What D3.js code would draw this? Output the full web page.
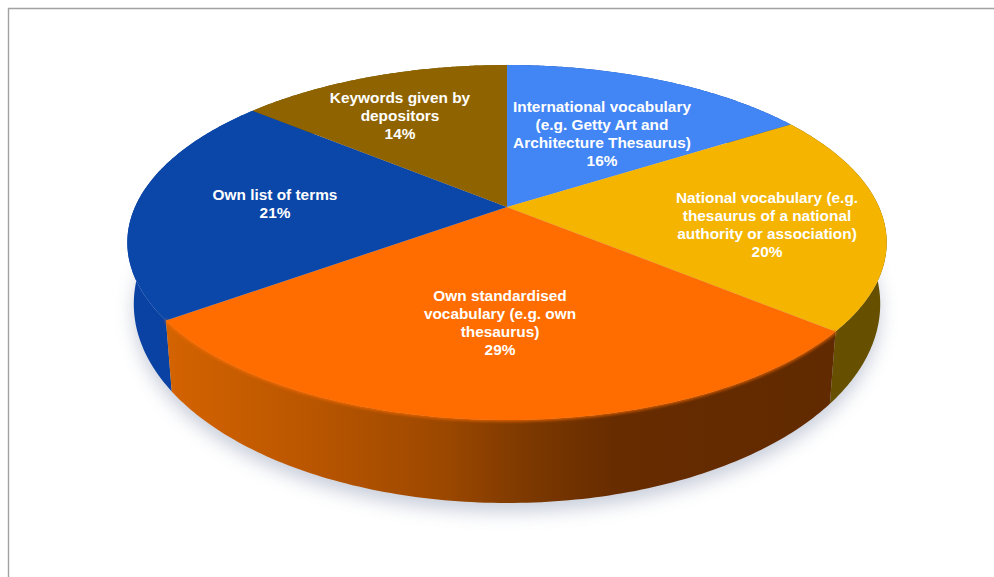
<!DOCTYPE html>
<html>
<head>
<meta charset="utf-8">
<script src="https://cdn.jsdelivr.net/npm/d3@7"></script>
<style>
  html, body { margin: 0; padding: 0; background: #fff; }
  svg { display: block; }
  text { font-family: "Liberation Sans", Arial, sans-serif; font-weight: 700; fill: #fff; }
</style>
</head>
<body>
<svg id="chart" width="994" height="577"></svg>
<script>
// Share of responses per vocabulary type, clockwise from twelve o'clock
const categories = [
  "International vocabulary (e.g. Getty Art and Architecture Thesaurus)",
  "National vocabulary (e.g. thesaurus of a national authority or association)",
  "Own standardised vocabulary (e.g. own thesaurus)",
  "Own list of terms",
  "Keywords given by depositors"
];
const shares = [16, 20, 29, 21, 14];
const labelLines = [
  ["International vocabulary", "(e.g. Getty Art and", "Architecture Thesaurus)"],
  ["National vocabulary (e.g.", "thesaurus of a national", "authority or association)"],
  ["Own standardised", "vocabulary (e.g. own", "thesaurus)"],
  ["Own list of terms"],
  ["Keywords given by", "depositors"]
];
const topColors = ["#4285F4", "#F4B400", "#FF6D00", "#0B47A8", "#8F6400"];

// Disc geometry: the apex is where the slices meet, the perspective factor
// pushes it above the centre of the projected ellipse.
const apex = { x: 507, y: 207 };
const radiusX = 372, radiusY = 170.4, perspective = -0.2;
const rimCentreY = 242.5, rimRadiusY = 177.5;
const floorCentreY = 304, floorRadiusY = 199, floorScaleX = 0.983;

// Label block centres, one per slice, and the line pitch
const labelCentres = [[602, 134], [767, 225], [500, 323], [275, 204], [400, 116]];
const lineHeight = 18;

const svg = d3.select("#chart");
const defs = svg.append("defs");

const pie = d3.pie().sort(null).value(d => d);
const arcs = pie(shares);

// Project a point of the flat disc (angle clockwise from top, radius 0..1)
function project(angle, r) {
  const u = r * Math.sin(angle), v = -r * Math.cos(angle);
  const w = 1 + perspective * v;
  return [apex.x + radiusX * u / w, apex.y + radiusY * v / w];
}
// The matching point on the lower edge of the drum
function drop(p) {
  return [
    apex.x + (p[0] - apex.x) * floorScaleX,
    floorCentreY + (p[1] - rimCentreY) * floorRadiusY / rimRadiusY
  ];
}
const rimPoints = a => d3.range(0, 121).map(i =>
  project(a.startAngle + (a.endAngle - a.startAngle) * i / 120, 1));
const line = d3.line();

// Side walls use horizontal light falloff
const sideStops = [
  [[0, "#0B45A6"], [1, "#0B45A6"]],
  [[0, "#6E5800"], [1, "#665000"]],
  [[0, "#D46300"], [0.2, "#BC5700"], [0.42, "#9C4800"], [0.55, "#7C3800"], [0.68, "#672C00"], [1, "#622A00"]],
  [[0, "#0A42A4"], [1, "#0A3F9E"]],
  [[0, "#6E5800"], [1, "#6E5800"]]
];
sideStops.forEach((stops, i) => {
  const g = defs.append("linearGradient")
    .attr("id", "side" + i)
    .attr("gradientUnits", "userSpaceOnUse")
    .attr("x1", 167).attr("x2", 825).attr("y1", 0).attr("y2", 0);
  if (i !== 2) { g.attr("x1", 120).attr("x2", 890); }
  stops.forEach(s => g.append("stop").attr("offset", s[0]).attr("stop-color", s[1]));
});

const shadowBlur = defs.append("filter").attr("id", "shadowBlur")
  .attr("x", "-10%").attr("y", "-10%").attr("width", "120%").attr("height", "130%");
shadowBlur.append("feGaussianBlur").attr("stdDeviation", 9);

const edgeBlur = defs.append("filter").attr("id", "edgeBlur")
  .attr("x", "-5%").attr("y", "-5%").attr("width", "110%").attr("height", "110%");
edgeBlur.append("feGaussianBlur").attr("stdDeviation", 1.6);

// Frame along the top and left of the panel
svg.append("path").attr("d", "M8.5 577V8.5H994").attr("fill", "none")
  .attr("stroke", "#a2a2a2").attr("stroke-width", 1.4);

// Soft shadow under the drum
const allRim = rimPoints({ startAngle: 0, endAngle: 2 * Math.PI });
svg.append("path")
  .attr("d", line(allRim.map(drop).map(p => [p[0], p[1] + 9])) + "Z")
  .attr("fill", "#7f8ba8").attr("opacity", 0.42)
  .attr("filter", "url(#shadowBlur)");

// Side walls, back slices first so the front wall wins at the seams
[4, 0, 3, 1, 2].forEach(i => {
  const top = rimPoints(arcs[i]);
  svg.append("path")
    .attr("class", "wall")
    .attr("d", line(top.concat(top.map(drop).reverse())) + "Z")
    .attr("fill", `url(#side${i})`);
});

// Top faces
svg.selectAll("path.slice").data(arcs).join("path")
  .attr("class", "slice")
  .attr("d", a => line([[apex.x, apex.y]].concat(rimPoints(a))) + "Z")
  .attr("fill", (a, i) => topColors[i]);

// Soft lit edge where the front wall meets the top face
svg.append("path")
  .attr("d", line(rimPoints(arcs[2])))
  .attr("fill", "none").attr("stroke", "#FF6D00").attr("stroke-width", 3)
  .attr("opacity", 0.8).attr("filter", "url(#edgeBlur)");

// Labels: category lines followed by the percentage
labelLines.forEach((lines, i) => {
  const all = lines.concat(shares[i] + "%");
  const [cx, cy] = labelCentres[i];
  const firstY = cy - (all.length - 1) * lineHeight / 2;
  svg.append("text")
    .attr("text-anchor", "middle")
    .attr("font-size", 15.4)
    .selectAll("tspan").data(all).join("tspan")
    .attr("x", cx)
    .attr("y", (d, k) => firstY + k * lineHeight + 5)
    .text(d => d);
});
</script>
</body>
</html>
